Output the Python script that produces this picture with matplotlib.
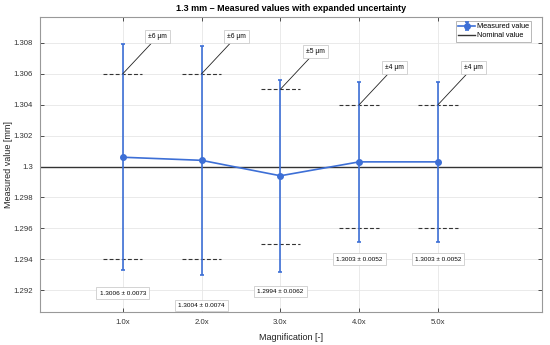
import matplotlib
matplotlib.use("Agg")
import matplotlib.pyplot as plt
import numpy as np

plt.rcParams['font.family'] = ['Liberation Sans', 'DejaVu Sans']

categories = ["1.0x", "2.0x", "3.0x", "4.0x", "5.0x"]
measured = [1.3006, 1.3004, 1.2994, 1.3003, 1.3003]
expanded_u = [0.0073, 0.0074, 0.0062, 0.0052, 0.0052]
tolerance_um = [6, 6, 5, 4, 4]
nominal = 1.3
label_y = [1.2918, 1.2910, 1.2919, 1.2940, 1.2940]

x = np.arange(1, len(categories) + 1)
blue = '#3D6FD6'

fig = plt.figure(figsize=(5.5, 3.45), dpi=100)
ax = fig.add_axes([0.0727, 0.0957, 0.9128, 0.855])

ax.axhline(nominal, color='#333333', lw=1.0, label='Nominal value', zorder=2)
ax.errorbar(x, measured, yerr=expanded_u, color=blue, lw=1.2, marker='o', ms=4,
            capsize=1.5, elinewidth=1.2, capthick=1.2, label='Measured value', zorder=3)

for xi, tol, yi, m, u in zip(x, tolerance_um, label_y, measured, expanded_u):
    t = tol / 1000.0
    for yy in (nominal + t, nominal - t):
        ax.plot([xi - 0.25, xi + 0.25], [yy, yy], color='#333333', lw=0.8,
                ls=(0, (3.5, 2)), zorder=2)
    ax.annotate(f"±{tol} µm", xy=(xi, nominal + t), xytext=(18.5, 24.5),
                textcoords='offset points', fontsize=4.8, ha='left', va='bottom',
                bbox=dict(boxstyle='square,pad=0.45', fc='white', ec='#CCCCCC', lw=0.6),
                arrowprops=dict(arrowstyle='-', color='#222222', lw=0.6,
                                shrinkA=0, shrinkB=0), zorder=4)
    ax.text(xi, yi, f"{m:.4f} ± {u:.4f}", fontsize=4.6, ha='center', va='center',
            bbox=dict(boxstyle='square,pad=0.5', fc='white', ec='#CCCCCC', lw=0.6),
            zorder=4)

ax.set_xlim(-0.05, 6.32)
ax.set_ylim(1.29058, 1.30968)
ax.set_xticks(x)
ax.set_xticklabels(categories)
ax.set_yticks([1.292, 1.294, 1.296, 1.298, 1.300, 1.302, 1.304, 1.306, 1.308])
ax.set_yticklabels(['1.292', '1.294', '1.296', '1.298', '1.3', '1.302', '1.304', '1.306', '1.308'])
ax.tick_params(direction='in', length=3, width=0.6, labelsize=5.6, colors='#333333',
               top=True, right=True, pad=5)
for s in ax.spines.values():
    s.set_color('#999999')
    s.set_linewidth(0.8)
ax.grid(True, color='#E6E6E6', lw=0.6)
ax.set_axisbelow(True)

ax.set_xlabel('Magnification [-]', fontsize=6.5, color='#222222', labelpad=5)
ax.set_ylabel('Measured value [mm]', fontsize=6.5, color='#222222')
ax.yaxis.set_label_coords(-0.054, 0.5)
ax.set_title('1.3 mm – Measured values with expanded uncertainty', fontsize=6.5,
             fontweight='bold', pad=4)

handles, labels = ax.get_legend_handles_labels()
leg = ax.legend(handles[::-1], labels[::-1], loc='upper right',
                bbox_to_anchor=(0.978, 0.986), fontsize=5.3,
                frameon=True, fancybox=False, borderpad=0.3, labelspacing=0.25,
                handlelength=2.3, handletextpad=0.2, borderaxespad=0)
leg.get_frame().set_edgecolor('#999999')
leg.get_frame().set_linewidth(0.6)

fig.savefig('out.png', dpi=100)
